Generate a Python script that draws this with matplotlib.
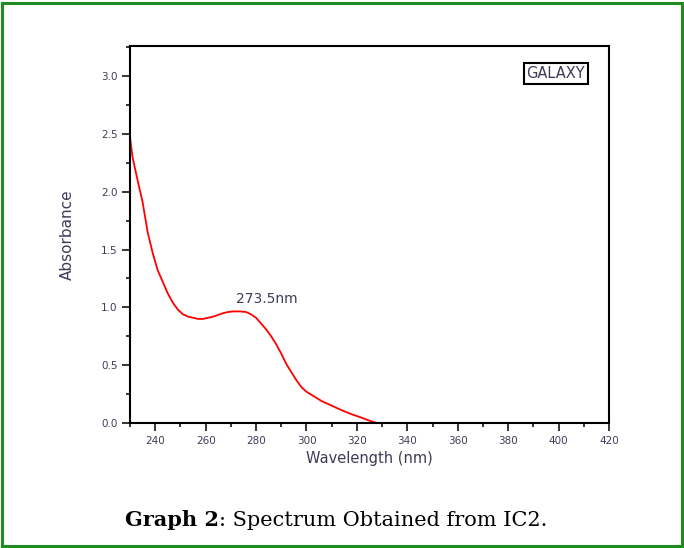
import matplotlib.pyplot as plt
from matplotlib.patches import Rectangle
from matplotlib.ticker import MultipleLocator

# spectrum
wavelength = [230, 231, 233, 235, 237, 239, 241, 243, 245, 247, 249, 251, 253, 255,
              257, 259, 261, 263, 265, 267, 269, 271, 273.5, 276, 278, 280, 282, 284,
              286, 288, 290, 292, 294, 296, 298, 300, 303, 306, 310, 314, 318, 322,
              325, 328]
absorbance = [2.47, 2.30, 2.10, 1.91, 1.65, 1.47, 1.32, 1.22, 1.12, 1.04, 0.98, 0.94,
              0.92, 0.91, 0.90, 0.90, 0.91, 0.92, 0.935, 0.95, 0.96, 0.965, 0.965,
              0.96, 0.94, 0.91, 0.86, 0.81, 0.75, 0.68, 0.60, 0.51, 0.44, 0.37, 0.31,
              0.27, 0.23, 0.19, 0.15, 0.11, 0.075, 0.045, 0.02, 0.0]
x_ticks = [240, 260, 280, 300, 320, 340, 360, 380, 400, 420]
y_ticks = [0.0, 0.5, 1.0, 1.5, 2.0, 2.5, 3.0]
peak_label = '273.5nm'
peak_pos = (272, 1.07)
legend_label = 'GALAXY'

text_col = '#3c3c58'

fig = plt.figure(figsize=(6.84, 5.48), dpi=100)
ax = fig.add_axes([130 / 684, 1 - 423 / 548, 479 / 684, 377 / 548])

ax.plot(wavelength, absorbance, color='#ff0000', lw=1.3)

ax.set_xlim(230, 420)
ax.set_ylim(0, 3.26)
ax.set_xticks(x_ticks)
ax.set_yticks(y_ticks)
ax.set_yticklabels([f'{v:.1f}' for v in y_ticks])
ax.xaxis.set_minor_locator(MultipleLocator(10))
ax.yaxis.set_minor_locator(MultipleLocator(0.25))
ax.tick_params(which='major', direction='out', length=6, width=1.1,
               labelsize=7.5, labelcolor=text_col, pad=3)
ax.tick_params(which='minor', direction='out', length=3, width=1.1)
ax.tick_params(top=False, right=False)
for sp in ax.spines.values():
    sp.set_linewidth(1.5)

ax.set_xlabel('Wavelength (nm)', fontsize=10.5, color=text_col, labelpad=4)
ax.set_ylabel('Absorbance', fontsize=11, color=text_col, labelpad=19)

ax.text(peak_pos[0], peak_pos[1], peak_label, fontsize=10, color=text_col,
        va='center', ha='left')

ax.text(0.889, 0.928, legend_label, transform=ax.transAxes, fontsize=10.5,
        color=text_col, ha='center', va='center',
        bbox=dict(boxstyle='square,pad=0.2', fc='white', ec='black', lw=1.5))

# green frame around the whole figure
fig.patches.append(Rectangle((0.003, 0.004), 0.994, 0.991, transform=fig.transFigure,
                             fill=False, ec='#1e8c1e', lw=2.2))

# caption: bold "Graph 2" followed by regular text
cap_y = 1 - 520 / 548
t1 = fig.text(125 / 684, cap_y, 'Graph 2', fontsize=15, fontweight='bold',
              family='DejaVu Serif', va='center', ha='left')
fig.canvas.draw()
bb = t1.get_window_extent()
x_next = bb.x1 / fig.bbox.width
fig.text(x_next, cap_y, ': Spectrum Obtained from IC2.', fontsize=15,
         family='DejaVu Serif', va='center', ha='left')

fig.savefig('out.png', dpi=100)
